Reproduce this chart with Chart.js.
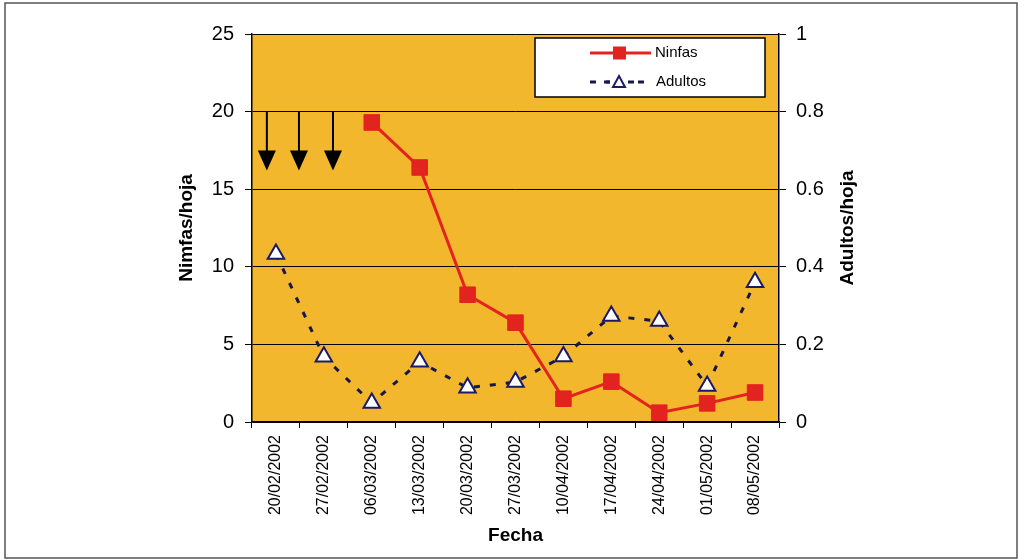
<!DOCTYPE html>
<html>
<head>
<meta charset="utf-8">
<script src="https://cdn.jsdelivr.net/npm/chart.js@4.4.1/dist/chart.umd.min.js"></script>
<style>
  html, body { margin: 0; padding: 0; background: #ffffff; }
  #wrap { width: 1025px; height: 560px; position: relative; }
</style>
</head>
<body>
<div id="wrap"><canvas id="c" width="1025" height="560"></canvas></div>
<script>
// Sampling dates (weekly)
const fechas = ['20/02/2002', '27/02/2002', '06/03/2002', '13/03/2002', '20/03/2002',
  '27/03/2002', '10/04/2002', '17/04/2002', '24/04/2002', '01/05/2002', '08/05/2002'];

// Nymphs per leaf (left axis)
const ninfas = [null, null, 19.3, 16.4, 8.2, 6.4, 1.5, 2.6, 0.6, 1.2, 1.9];

// Adults per leaf (right axis)
const adultos = [0.433, 0.168, 0.049, 0.155, 0.088, 0.103, 0.169, 0.273, 0.26, 0.093, 0.36];

// Left axis ticks 0..25 step 5, right axis 0..1 step 0.2
const ninfasTicks = [0, 5, 10, 15, 20, 25];
const adultosTicks = [0, 0.2, 0.4, 0.6, 0.8, 1];

// Treatment arrows: position on the date axis (category index) and span in nymphs/leaf
const flechasPos = [-0.19, 0.48, 1.19];
const flechaDesde = 20;
const flechaHasta = 16.2;

const ROJO = '#E3231F';
const AZUL = '#17174a';
const ORO = '#F3B72D';
const FONT = 'Arial, "Liberation Sans", Helvetica, sans-serif';

const fondoYMarco = {
  id: 'fondoYMarco',
  beforeDraw(chart) {
    const { ctx, chartArea: a } = chart;
    ctx.save();
    ctx.fillStyle = '#ffffff';
    ctx.fillRect(0, 0, chart.width, chart.height);
    ctx.strokeStyle = '#555555';
    ctx.lineWidth = 1.5;
    ctx.strokeRect(5, 3, 1012, 555);
    ctx.fillStyle = ORO;
    ctx.fillRect(a.left, a.top, a.right - a.left, a.bottom - a.top);
    ctx.restore();
  }
};

const extras = {
  id: 'extras',
  afterDatasetsDraw(chart) {
    const { ctx, scales } = chart;
    const x = scales.x, y = scales.y;
    ctx.save();
    // arrows
    ctx.fillStyle = '#000';
    ctx.strokeStyle = '#000';
    flechasPos.forEach(p => {
      const px = x.getPixelForValue(p);
      const y0 = y.getPixelForValue(flechaDesde);
      const y1 = y.getPixelForValue(flechaHasta);
      const headH = 20, headW = 9;
      ctx.lineWidth = 2;
      ctx.beginPath();
      ctx.moveTo(px, y0);
      ctx.lineTo(px, y1 - headH + 2);
      ctx.stroke();
      ctx.beginPath();
      ctx.moveTo(px - headW, y1 - headH);
      ctx.lineTo(px + headW, y1 - headH);
      ctx.lineTo(px, y1);
      ctx.closePath();
      ctx.fill();
    });
    ctx.restore();
  },
  afterDraw(chart) {
    const { ctx, chartArea: a } = chart;
    ctx.save();
    // right axis title, reading bottom to top
    ctx.translate(848, (a.top + a.bottom) / 2);
    ctx.rotate(-Math.PI / 2);
    ctx.font = 'bold 19px ' + FONT;
    ctx.fillStyle = '#000';
    ctx.textAlign = 'center';
    ctx.textBaseline = 'middle';
    ctx.fillText('Adultos/hoja', 0, 0);
    ctx.restore();

    // legend box
    ctx.save();
    const lx = 535, ly = 38, lw = 230, lh = 59;
    ctx.fillStyle = '#ffffff';
    ctx.fillRect(lx, ly, lw, lh);
    ctx.strokeStyle = '#000';
    ctx.lineWidth = 1.5;
    ctx.strokeRect(lx, ly, lw, lh);
    const ds = chart.data.datasets;
    // Ninfas entry
    let ry = 53;
    ctx.strokeStyle = ds[0].borderColor;
    ctx.lineWidth = 3;
    ctx.beginPath(); ctx.moveTo(590, ry); ctx.lineTo(651, ry); ctx.stroke();
    ctx.fillStyle = ds[0].pointBackgroundColor;
    ctx.fillRect(613, ry - 6.5, 13, 13);
    // Adultos entry
    ry = 82;
    ctx.strokeStyle = ds[1].borderColor;
    ctx.lineWidth = 3;
    ctx.setLineDash([6, 10]);
    ctx.beginPath(); ctx.moveTo(590, ry); ctx.lineTo(651, ry); ctx.stroke();
    ctx.setLineDash([]);
    ctx.fillStyle = '#ffffff';
    ctx.fillRect(610, ry - 7, 18, 14);
    ctx.beginPath();
    ctx.moveTo(619, ry - 6); ctx.lineTo(625, ry + 5); ctx.lineTo(613, ry + 5); ctx.closePath();
    ctx.fillStyle = '#ffffff'; ctx.fill();
    ctx.strokeStyle = ds[1].pointBorderColor; ctx.lineWidth = 2; ctx.stroke();
    ctx.strokeStyle = ds[1].borderColor; ctx.lineWidth = 3;
    ctx.beginPath(); ctx.moveTo(604, ry); ctx.lineTo(610, ry); ctx.stroke();
    ctx.beginPath(); ctx.moveTo(628, ry); ctx.lineTo(634, ry); ctx.stroke();
    // texts
    ctx.fillStyle = '#000';
    ctx.font = '15px ' + FONT;
    ctx.textBaseline = 'middle';
    ctx.textAlign = 'left';
    ctx.fillText(ds[0].label, 655, 53);
    ctx.fillText(ds[1].label, 656, 82);
    ctx.restore();
  }
};

new Chart(document.getElementById('c'), {
  type: 'line',
  data: {
    labels: fechas,
    datasets: [
      {
        label: 'Ninfas',
        data: ninfas,
        yAxisID: 'y',
        borderColor: ROJO,
        backgroundColor: ROJO,
        borderWidth: 3,
        pointStyle: 'rect',
        pointRadius: 11,
        pointBackgroundColor: ROJO,
        pointBorderColor: ROJO,
        pointBorderWidth: 1,
        spanGaps: false,
        tension: 0,
        order: 1
      },
      {
        label: 'Adultos',
        data: adultos,
        yAxisID: 'y1',
        borderColor: AZUL,
        backgroundColor: '#ffffff',
        borderWidth: 3,
        borderDash: [6, 10],
        pointStyle: 'triangle',
        pointRadius: 9.5,
        pointBackgroundColor: '#ffffff',
        pointBorderColor: '#1a1a66',
        pointBorderWidth: 2,
        tension: 0,
        order: 2
      }
    ]
  },
  options: {
    responsive: false,
    animation: false,
    layout: { padding: { left: 171, top: 34, right: 0, bottom: 0 } },
    plugins: {
      legend: { display: false },
      tooltip: { enabled: false }
    },
    scales: {
      x: {
        type: 'category',
        offset: true,
        grid: {
          offset: true,
          drawOnChartArea: false,
          drawTicks: true,
          tickLength: 6,
          color: '#000',
          lineWidth: 1
        },
        border: { display: true, color: '#000', width: 1.5 },
        ticks: {
          minRotation: 90,
          maxRotation: 90,
          autoSkip: false,
          padding: 7,
          color: '#000',
          font: { family: FONT, size: 16 }
        },
        title: {
          display: true,
          text: 'Fecha',
          color: '#000',
          font: { family: FONT, size: 19, weight: 'bold' },
          padding: { top: 0, bottom: 13 }
        },
        afterFit(s) { s.height = 138; }
      },
      y: {
        position: 'left',
        min: 0,
        max: 25,
        afterBuildTicks(s) { s.ticks = ninfasTicks.map(v => ({ value: v })); },
        grid: {
          color: '#000',
          lineWidth: 1,
          tickLength: 7,
          drawOnChartArea: true
        },
        border: { display: true, color: '#000', width: 1.5 },
        ticks: {
          padding: 11,
          color: '#000',
          font: { family: FONT, size: 20 }
        },
        title: {
          display: true,
          text: 'Nimfas/hoja',
          color: '#000',
          font: { family: FONT, size: 19, weight: 'bold' },
          padding: { top: 4, bottom: 0 }
        },
        afterFit(s) { s.width = 81; }
      },
      y1: {
        position: 'right',
        min: 0,
        max: 1,
        afterBuildTicks(s) { s.ticks = adultosTicks.map(v => ({ value: v })); },
        grid: {
          drawOnChartArea: false,
          color: '#000',
          tickLength: 7
        },
        border: { display: true, color: '#000', width: 1.5 },
        ticks: {
          padding: 10,
          color: '#000',
          font: { family: FONT, size: 20 },
          callback: v => String(Math.round(v * 10) / 10)
        },
        afterFit(s) { s.width = 246; }
      }
    }
  },
  plugins: [fondoYMarco, extras]
});
</script>
</body>
</html>
